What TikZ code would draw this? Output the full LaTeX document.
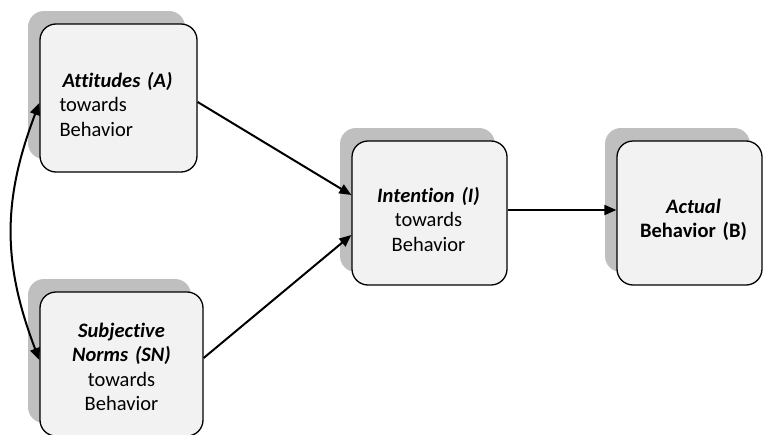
\documentclass[tikz,border=0pt]{standalone}
\usepackage{fontspec}
\setmainfont{Carlito}[Ligatures=NoCommon]
\usetikzlibrary{calc,arrows.meta,shadows}
\definecolor{boxfill}{HTML}{F2F2F2}
\definecolor{shadowgray}{HTML}{BFBFBF}
\begin{document}
\begin{tikzpicture}[x=1pt,y=-1pt,
  box/.style={rectangle, rounded corners=16pt, draw=black, line width=1.3pt,
    fill=boxfill, inner sep=0pt,
    drop shadow={shadow xshift=-12pt, shadow yshift=13pt, fill=shadowgray, opacity=1}},
  txt/.style={inner sep=0pt, font=\fontsize{20.5}{24.5}\selectfont},
  arr/.style={-{Triangle[length=12pt,width=10pt]}, line width=2pt},
  dbl/.style={{Triangle[length=12pt,width=10pt]}-{Triangle[length=12pt,width=10pt]}, line width=2pt}]
\useasboundingbox (0,0) rectangle (763,434);
\node[box, minimum width=157pt, minimum height=148pt] (A) at (118.5,98) {};
\node[box, minimum width=163pt, minimum height=144pt] (SN) at (121.5,364) {};
\node[box, minimum width=155pt, minimum height=144pt] (I) at (429.5,213) {};
\node[box, minimum width=145pt, minimum height=144pt] (B) at (689.5,213) {};
\node[txt, text width=130pt, align=left, anchor=base west] (At) at ($(A.west)+(20,-11)$)
  {\hspace*{3pt}\textbf{\textit{Attitudes (A)}}\\towards\\Behavior};
\node[txt, text width=150pt, align=center, anchor=base] (SNt) at ($(SN.center)+(0,-27)$)
  {\textbf{\textit{Subjective}}\\\textbf{\textit{Norms (SN)}}\\towards\\Behavior};
\node[txt, text width=145pt, align=center, anchor=base] (It) at ($(I.center)+(-1,-11)$)
  {\textbf{\textit{Intention (I)}}\\towards\\Behavior};
\node[txt, text width=140pt, align=center, anchor=base] (Bt) at ($(B.center)+(4,0)$)
  {\textbf{\textit{Actual}}\\\textbf{Behavior (B)}};
\draw[arr] ($(A.east)+(0,4)$) -- ($(I.west)+(0,-18)$);
\draw[arr] ($(SN.east)+(0,-6)$) -- ($(I.west)+(0,22)$);
\draw[arr] ($(I.east)+(0,-3)$) -- ($(B.west)+(0,-3)$);
\draw[dbl] ($(A.west)+(0,5)$) .. controls ($(A.west)+(-37,102)$) and ($(SN.west)+(-37,-101)$) .. ($(SN.west)+(0,-4)$);
\end{tikzpicture}
\end{document}
